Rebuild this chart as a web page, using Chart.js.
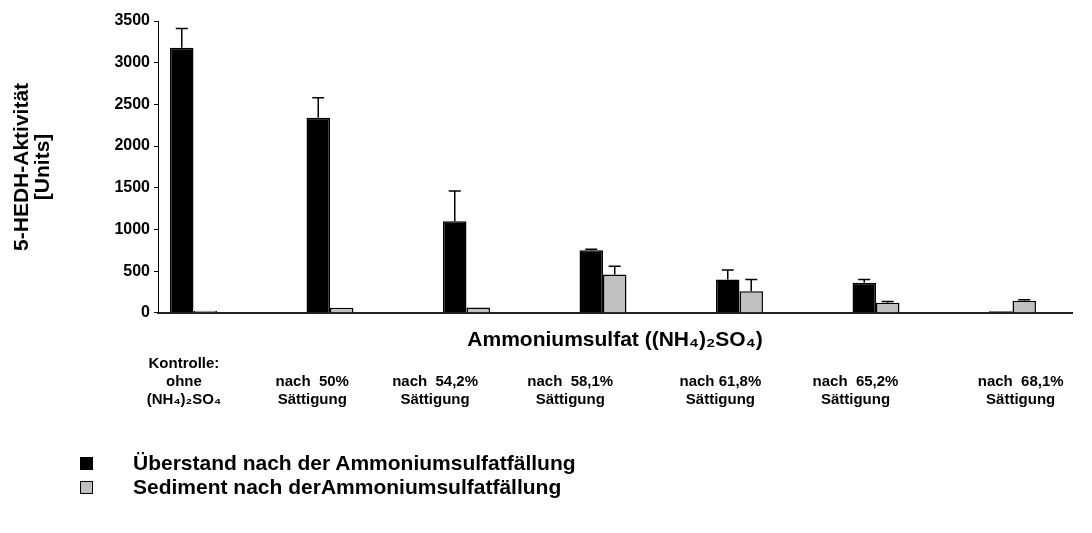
<!DOCTYPE html>
<html>
<head>
<meta charset="utf-8">
<script src="https://cdn.jsdelivr.net/npm/chart.js@4/dist/chart.umd.min.js"></script>
<style>
  html, body { margin: 0; padding: 0; background: #fff; }
  #wrap { position: relative; width: 1092px; height: 533px; }
  #legend { position: absolute; left: 80px; top: 451px; font: bold 21px 'Liberation Sans', Arial, sans-serif; color: #000; }
  #legend .item { display: flex; align-items: center; height: 24px; }
  #legend .box { width: 13px; height: 13px; border: 1px solid #000; box-sizing: border-box; margin-right: 40px; }
</style>
</head>
<body>
<div id="wrap">
  <canvas id="chart" width="1092" height="533"></canvas>
  <div id="legend"></div>
</div>
<script>
const FONT = "'Liberation Sans', Arial, sans-serif";

// categories (x tick labels, 3 lines each so the tops line up)
const categories = [
    ['Kontrolle:', 'ohne', '(NH₄)₂SO₄'],
    ['', 'nach  50%', 'Sättigung'],
    ['', 'nach  54,2%', 'Sättigung'],
    ['', 'nach  58,1%', 'Sättigung'],
    ['', 'nach 61,8%', 'Sättigung'],
    ['', 'nach  65,2%', 'Sättigung'],
    ['', 'nach  68,1%', 'Sättigung']
];
// where the text boxes sit under the groups (in category units)
const labelPos = [-0.07, 0.87, 1.77, 2.76, 3.86, 4.85, 6.06];

const seriesNames = ['Überstand nach der Ammoniumsulfatfällung', 'Sediment nach derAmmoniumsulfatfällung'];
const ueberstand = [3180, 2340, 1100, 750, 400, 360, 20];
const ueberstandErr = [230, 240, 360, 12, 115, 40, 0];
const sediment = [25, 60, 65, 460, 260, 120, 145];
const sedimentErr = [0, 0, 0, 100, 140, 15, 12];

const yTicks = [0, 500, 1000, 1500, 2000, 2500, 3000, 3500];

// only upward error bars, drawn on top of the bars
const errorBars = {
    id: 'errorBars',
    afterDatasetsDraw(chart) {
        const ctx = chart.ctx;
        const yScale = chart.scales.y;
        chart.data.datasets.forEach((ds, di) => {
            const meta = chart.getDatasetMeta(di);
            meta.data.forEach((bar, i) => {
                const err = ds.errors[i];
                if (!err) return;
                const top = yScale.getPixelForValue(ds.data[i].y + err);
                ctx.save();
                ctx.strokeStyle = '#000';
                ctx.lineWidth = 1.5;
                ctx.beginPath();
                ctx.moveTo(bar.x, bar.y);
                ctx.lineTo(bar.x, top);
                ctx.moveTo(bar.x - 6, top);
                ctx.lineTo(bar.x + 6, top);
                ctx.stroke();
                ctx.restore();
            });
        });
    }
};

const chart = new Chart(document.getElementById('chart'), {
    type: 'bar',
    data: {
        datasets: [{
            label: seriesNames[0],
            data: ueberstand.map((v, i) => ({ x: i, y: v })),
            errors: ueberstandErr,
            backgroundColor: '#000000',
            borderColor: '#000000',
            borderWidth: 1.5
        }, {
            label: seriesNames[1],
            data: sediment.map((v, i) => ({ x: i, y: v })),
            errors: sedimentErr,
            backgroundColor: '#c0c0c0',
            borderColor: '#000000',
            borderWidth: 1.5
        }]
    },
    options: {
        responsive: false,
        animation: false,
        categoryPercentage: 0.344,
        barPercentage: 1,
        layout: { padding: { top: 21, right: 20, bottom: 124, left: 0 } },
        plugins: {
            legend: { display: false },
            tooltip: { enabled: false }
        },
        scales: {
            x: {
                type: 'linear',
                min: -0.26,
                max: 6.436,
                offset: false,
                weight: 0,
                afterBuildTicks: (scale) => { scale.ticks = categories.map((c, i) => ({ value: i })); },
                ticks: { display: false },
                grid: { display: false, drawTicks: false, offset: false },
                border: { display: true, color: '#222', width: 2 },
                title: {
                    display: true,
                    text: 'Ammoniumsulfat ((NH₄)₂SO₄)',
                    color: '#000',
                    font: { family: FONT, size: 21, weight: 'bold', lineHeight: 1.15 },
                    padding: { top: 15, bottom: 3 }
                }
            },
            x2: {
                type: 'linear',
                position: 'bottom',
                min: -0.26,
                max: 6.436,
                offset: false,
                weight: 1,
                afterBuildTicks: (scale) => { scale.ticks = labelPos.map(v => ({ value: v })); },
                ticks: {
                    callback: (value, index) => categories[index],
                    autoSkip: false,
                    maxRotation: 0,
                    padding: 0,
                    color: '#000',
                    font: { family: FONT, size: 15, weight: 'bold', lineHeight: 1.2 }
                },
                grid: { display: false, drawTicks: false, offset: false },
                border: { display: false }
            },
            y: {
                min: 0,
                max: 3500,
                afterFit: (scale) => { scale.width = 158; },
                afterBuildTicks: (scale) => {
                    const t = [];
                    for (let v = 0; v <= 3500; v += 250) t.push({ value: v });
                    scale.ticks = t;
                },
                ticks: {
                    callback: (v) => yTicks.includes(v) ? String(v) : '',
                    color: '#000',
                    padding: 4,
                    font: { family: FONT, size: 16, weight: 'bold' }
                },
                grid: { drawOnChartArea: false, drawTicks: true, tickLength: 4, color: '#000' },
                border: { display: true, color: '#000', width: 1 },
                title: {
                    display: true,
                    text: ['5-HEDH-Aktivität', '[Units]'],
                    color: '#000',
                    font: { family: FONT, size: 21, weight: 'bold', lineHeight: 1.0 },
                    padding: { top: 12, bottom: 0 }
                }
            }
        }
    },
    plugins: [errorBars]
});

// legend built from the datasets
const legendEl = document.getElementById('legend');
chart.data.datasets.forEach(ds => {
    const item = document.createElement('div');
    item.className = 'item';
    const box = document.createElement('span');
    box.className = 'box';
    box.style.background = ds.backgroundColor;
    item.appendChild(box);
    item.appendChild(document.createTextNode(ds.label));
    legendEl.appendChild(item);
});
</script>
</body>
</html>
